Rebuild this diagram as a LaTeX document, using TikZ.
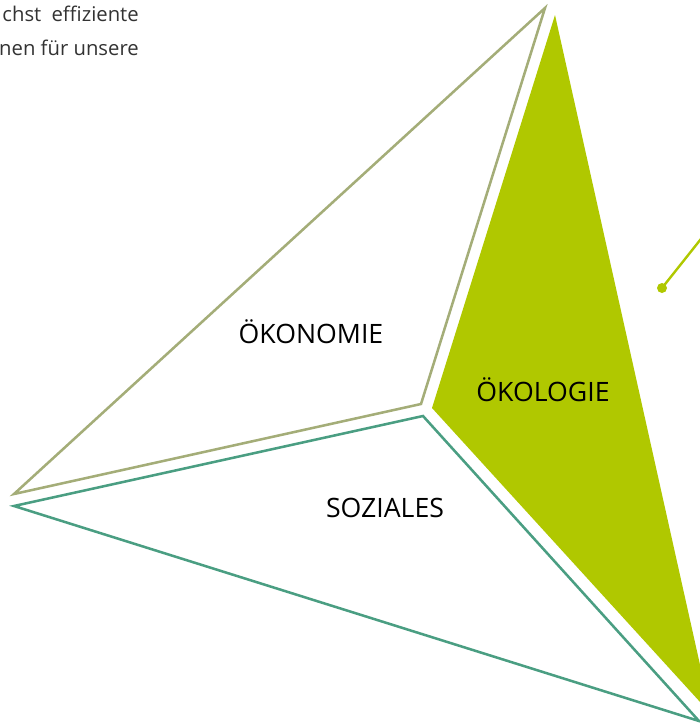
\documentclass[tikz,border=0pt]{standalone}
\usepackage{fontspec}
\setmainfont{Open Sans}

\definecolor{oekonomieline}{RGB}{164,173,120}
\definecolor{sozialesline}{RGB}{74,158,130}
\definecolor{oekologiefill}{RGB}{176,200,0}

\tikzset{every picture/.style={line width=1.9pt}}
\tikzset{
  pillarlabel/.style={inner sep=0.75pt, font=\fontsize{20}{24}\selectfont},
  introtext/.style={anchor=base east, inner sep=0pt, text=black!80, font=\fontsize{15.2}{24}\selectfont},
  pointerdot/.style={circle, fill=oekologiefill, inner sep=0pt, minimum size=7.5pt}
}

\begin{document}
\begin{tikzpicture}[x=0.75pt,y=0.75pt,yscale=-1,xscale=1]
\useasboundingbox (0,0) rectangle (700,725);
\clip (0,0) rectangle (700,725);

%Shape: Triangle [Oekologie]
\fill [oekologiefill] (555,15) -- (432,408) -- (711,714) -- cycle ;
%Shape: Triangle [Oekonomie]
\draw [color=oekonomieline] (545,8) -- (421,404) -- (14,494) -- cycle ;
%Shape: Triangle [Soziales]
\draw [color=sozialesline] (14,506) -- (423,416) -- (699,721) -- cycle ;

%Pointer line
\node [pointerdot] (dot) at (662,288) {};
\coordinate (dotend) at (716,220);
\draw [color=oekologiefill, line width=1.8pt] (dot.center) -- (dotend) ;

% Text Node
\node [pillarlabel] (oekonomie) at (311,332) {ÖKONOMIE};
% Text Node
\node [pillarlabel] (oekologie) at (543,390) {ÖKOLOGIE};
% Text Node
\node [pillarlabel] (soziales) at (385,508) {SOZIALES};

% Text Node
\node [introtext] (introa) at (140,21) {chst\hspace{0.5em}effiziente};
% Text Node
\node [introtext] (introb) at (140,55) {nen für unsere};

\end{tikzpicture}
\end{document}
